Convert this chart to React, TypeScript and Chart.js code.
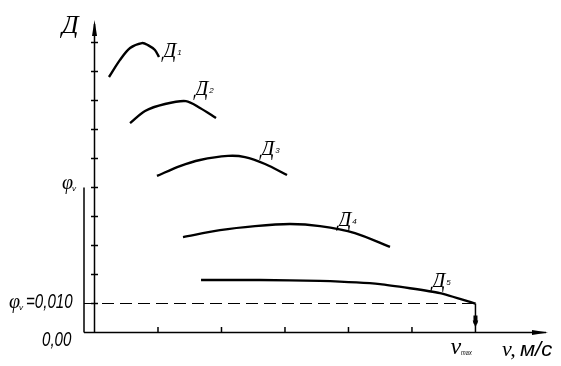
import React, { useEffect, useRef } from "react";
import { Chart, registerables } from "chart.js";

Chart.register(...registerables);

// Speed v, m/s and dynamic factor Д for each gear curve
const d1V = [1.14, 2.01, 2.8, 3.74, 4.21, 4.76, 5.08];
const d1D = [0.0881, 0.094, 0.0981, 0.0998, 0.0991, 0.0974, 0.095];
const d2V = [2.8, 3.98, 5.55, 7.2, 8.31, 9.57];
const d2D = [0.0722, 0.0764, 0.0788, 0.0798, 0.0774, 0.074];
const d3V = [4.92, 6.73, 8.31, 10.51, 11.85, 13.43, 15.16];
const d3D = [0.054, 0.0574, 0.0595, 0.0609, 0.0605, 0.0581, 0.0543];
const d4V = [6.97, 9.88, 12.64, 15.39, 17.76, 20.51, 23.27];
const d4D = [0.0329, 0.0353, 0.0367, 0.0374, 0.0367, 0.0343, 0.0295];
const d5V = [8.39, 13.03, 17.76, 22.48, 27.2, 30];
const d5D = [0.0181, 0.0181, 0.0178, 0.0167, 0.0136, 0.01];

const curveSubs = ["1", "2", "3", "4", "5"];
// label anchor (v, Д) for each curve label
const labelV = [5.39, 7.91, 13.11, 19.17, 26.57];
const labelD = [0.095, 0.0819, 0.0612, 0.0367, 0.0157];

const xTicks = [5, 10, 15, 20, 25];
const yTicks = [0.01, 0.02, 0.03, 0.04, 0.05, 0.06, 0.07, 0.08, 0.09, 0.1];
const vMax = 30;
const phiV = 0.01;
const phi0 = 0.05;
const phiVText = "=0,010";
const zeroText = "0,00";
const axisYText = "Д";
const axisXText1 = "v,";
const axisXText2 = "м/с";

const curves = [
  [d1V, d1D],
  [d2V, d2D],
  [d3V, d3D],
  [d4V, d4D],
  [d5V, d5D],
];

function line(ctx: CanvasRenderingContext2D, x1: number, y1: number, x2: number, y2: number) {
  ctx.beginPath();
  ctx.moveTo(x1, y1);
  ctx.lineTo(x2, y2);
  ctx.stroke();
}

function tri(ctx: CanvasRenderingContext2D, pts: number[][]) {
  ctx.beginPath();
  ctx.moveTo(pts[0][0], pts[0][1]);
  ctx.lineTo(pts[1][0], pts[1][1]);
  ctx.lineTo(pts[2][0], pts[2][1]);
  ctx.closePath();
  ctx.fill();
}

function text(ctx: CanvasRenderingContext2D, s: string, x: number, y: number, font: string, sx = 1) {
  ctx.save();
  ctx.font = font;
  ctx.translate(x, y);
  ctx.scale(sx, 1);
  ctx.fillText(s, 0, 0);
  const w = ctx.measureText(s).width * sx;
  ctx.restore();
  return w;
}

const SERIF = "'Liberation Serif', serif";
const SANS = "'Liberation Sans', sans-serif";

const axesPlugin = {
  id: "axesPlugin",
  afterDraw(chart: any) {
    const { ctx, chartArea, scales } = chart;
    const xs = scales.x;
    const ys = scales.y;
    const x0 = xs.getPixelForValue(0);
    const y0 = ys.getPixelForValue(0);
    const left = chartArea.left;
    const right = chartArea.right;
    const top = chartArea.top;
    const pxMax = xs.getPixelForValue(vMax);
    const pyV = ys.getPixelForValue(phiV);
    const py0 = ys.getPixelForValue(phi0);
    ctx.save();
    ctx.strokeStyle = "#000";
    ctx.fillStyle = "#000";
    ctx.lineWidth = 1.5;
    line(ctx, left, y0, right - 4, y0);
    line(ctx, x0, y0, x0, top + 4);
    line(ctx, left, py0, left, y0);
    yTicks.forEach((t) => {
      const p = ys.getPixelForValue(t);
      line(ctx, x0 - 3.5, p, x0 + 3.5, p);
    });
    xTicks.forEach((t) => {
      const p = xs.getPixelForValue(t);
      line(ctx, p, y0, p, y0 - 5.5);
    });
    ctx.lineWidth = 1.2;
    ctx.setLineDash([12, 6]);
    line(ctx, left, pyV, pxMax, pyV);
    ctx.setLineDash([]);
    ctx.lineWidth = 1.5;
    line(ctx, pxMax, pyV, pxMax, y0);
    // arrows
    tri(ctx, [[x0, top], [x0 - 2.5, top + 16], [x0 + 2.5, top + 16]]);
    tri(ctx, [[right - 2, y0], [right - 18, y0 - 2.5], [right - 18, y0 + 2.5]]);
    ctx.fillRect(pxMax - 2, pyV + 12, 4, 8);
    tri(ctx, [[pxMax, pyV + 24], [pxMax - 2.8, pyV + 17], [pxMax + 2.8, pyV + 17]]);

    // texts
    ctx.textBaseline = "alphabetic";
    text(ctx, axisYText, 62, 33, `italic 26px ${SERIF}`);
    curveSubs.forEach((s, i) => {
      const px = xs.getPixelForValue(labelV[i]);
      const py = ys.getPixelForValue(labelD[i]);
      const w = text(ctx, "Д", px, py, `italic 21px ${SERIF}`);
      text(ctx, s, px + w + 1, py - 2, `italic 8px ${SANS}`);
    });
    // phi labels
    let w = text(ctx, "φ", 62, py0 + 1, `italic 20px ${SERIF}`);
    text(ctx, "v", 62 + w - 1, py0 + 3, `italic 8px ${SANS}`);
    w = text(ctx, "φ", 9, pyV + 4, `italic 20px ${SERIF}`);
    text(ctx, "v", 9 + w - 1, pyV + 6, `italic 8px ${SANS}`);
    text(ctx, phiVText, 26, pyV + 4, `italic 21px ${SANS}`, 0.72);
    text(ctx, zeroText, 42, y0 + 13, `italic 21px ${SANS}`, 0.72);
    // v max
    w = text(ctx, "v", pxMax - 25, y0 + 21, `italic 24px ${SERIF}`);
    text(ctx, "max", pxMax - 25 + w, y0 + 22, `italic 7px ${SANS}`, 0.8);
    text(ctx, axisXText1, 502, y0 + 23, `italic 22px ${SERIF}`);
    text(ctx, axisXText2, 520, y0 + 23, `italic 21px ${SANS}`, 1.05);
    ctx.restore();
  },
};

export default function App() {
  const ref = useRef<HTMLCanvasElement | null>(null);
  useEffect(() => {
    if (!ref.current) return;
    const chart = new Chart(ref.current, {
      type: "scatter",
      data: {
        datasets: curves.map(([vs, ds], i) => ({
          label: "Д" + curveSubs[i],
          data: vs.map((v, j) => ({ x: v, y: ds[j] })),
          showLine: true,
          borderColor: "#000",
          borderWidth: 2.4,
          pointRadius: 0,
          tension: i === 4 ? 0.15 : 0.3,
          fill: false,
        })),
      },
      options: {
        animation: false,
        responsive: false,
        events: [],
        layout: { padding: { left: 84, right: 11, top: 20, bottom: 33.5 } },
        plugins: { legend: { display: false }, tooltip: { enabled: false } },
        scales: {
          x: { type: "linear", display: false, min: -0.827, max: 35.87 },
          y: { type: "linear", display: false, min: 0, max: 0.10776 },
        },
      },
      plugins: [axesPlugin],
    });
    return () => chart.destroy();
  }, []);
  return (
    <div style={{ position: "absolute", left: 0, top: 0, width: 561, height: 366, background: "#fff" }}>
      <canvas ref={ref} width={561} height={366} style={{ display: "block", width: 561, height: 366 }} />
    </div>
  );
}
